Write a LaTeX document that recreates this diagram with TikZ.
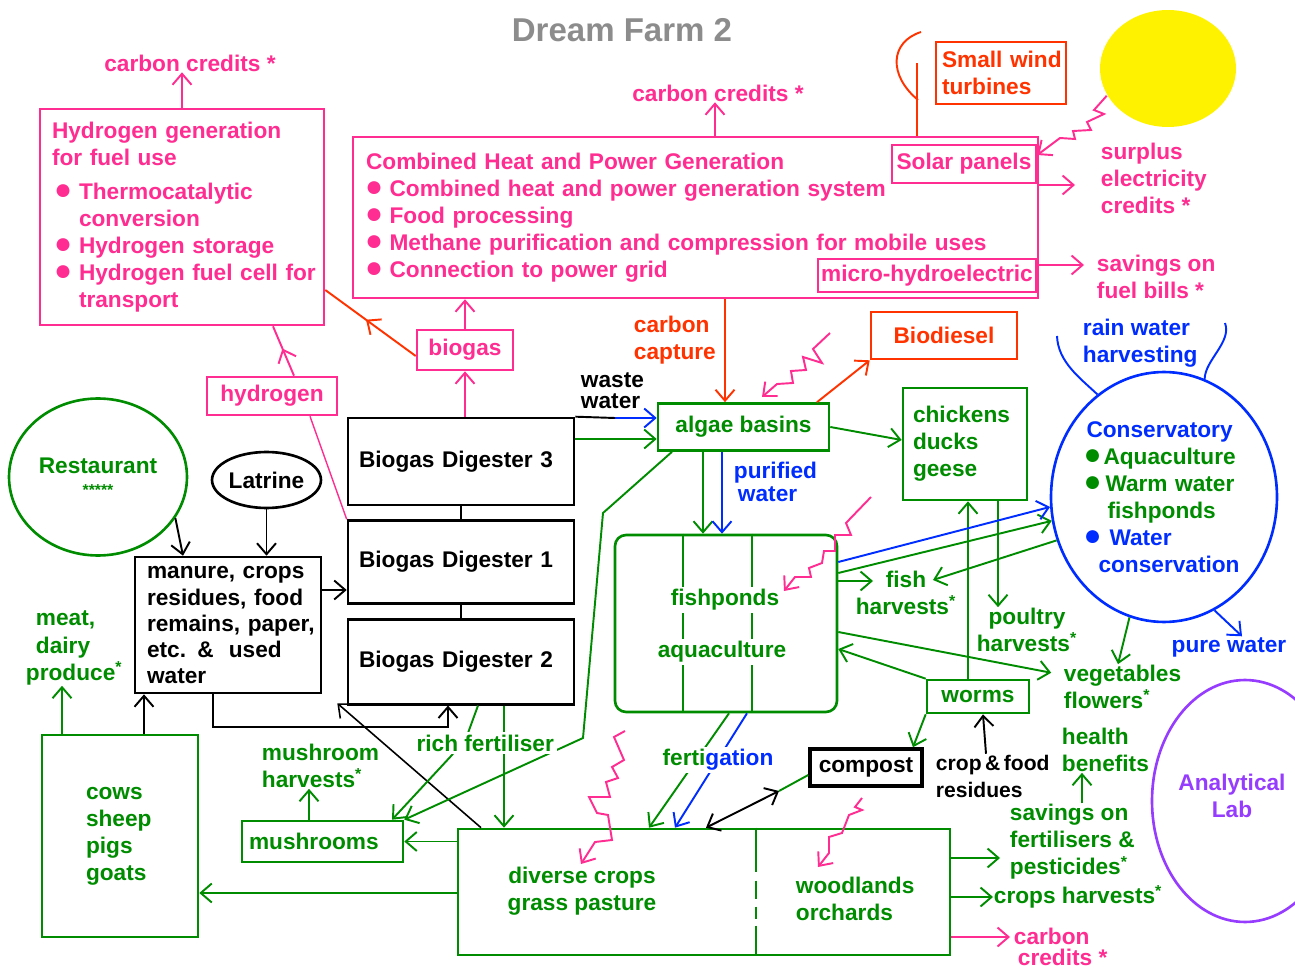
\documentclass[tikz,border=0pt]{standalone}
\usepackage{fontspec}
\setmainfont{Liberation Sans}
\usetikzlibrary{arrows.meta,positioning,shapes.geometric,decorations.markings}
\definecolor{pinkc}{RGB}{255,45,145}
\definecolor{redc}{RGB}{255,51,0}
\definecolor{greenc}{RGB}{0,140,0}
\definecolor{bluec}{RGB}{0,45,255}
\definecolor{purplec}{RGB}{150,60,255}
\definecolor{grayc}{RGB}{140,140,140}
\newcommand{\blt}[2][0cm]{\makebox[#2][l]{\hspace*{#1}\raisebox{-0.3pt}{\fontsize{17}{15}\selectfont ●}}}
\hyphenpenalty=10000
\exhyphenpenalty=10000

\begin{document}
\begin{tikzpicture}[x=0.02cm,y=-0.02cm,line width=1.1pt,
  every node/.style={font=\bfseries\fontsize{12.9}{15.4}\selectfont,inner sep=0pt},
  >={Straight Barb[length=2.2mm,width=3.8mm]},
  box/.style={draw,line width=1.5pt,align=left},
  midarr/.style={postaction={decorate,decoration={markings,mark=at position 0.55 with {\arrow{>}}}}}]
\path[use as bounding box,clip] (0,0) rectangle (1295,969);

\node[grayc,font=\bfseries\fontsize{18.8}{20}\selectfont] (title) at (622,30) {Dream Farm 2};

\node[box,pinkc,minimum width=5.68cm,minimum height=4.32cm,text width=5.2cm] (hyd) at (182,217)
  {Hydrogen generation\\for fuel use\\[0.14cm]
   \blt[0.04cm]{0.54cm}Thermocatalytic\\\hspace*{0.54cm}conversion\\
   \blt[0.04cm]{0.54cm}Hydrogen storage\\
   \blt[0.04cm]{0.54cm}Hydrogen~fuel~cell~for\\\hspace*{0.54cm}transport};
\node[box,pinkc,minimum width=13.7cm,minimum height=3.22cm,text width=13.18cm] (chp) at (695.5,217.5)
  {Combined Heat and Power Generation\\
   \blt[-0.02cm]{0.47cm}Combined heat and power generation system\\
   \blt[-0.02cm]{0.47cm}Food processing\\
   \blt[-0.02cm]{0.47cm}Methane purification and compression for mobile uses\\
   \blt[-0.02cm]{0.47cm}Connection to power grid};
\node[box,pinkc,fill=white,minimum width=2.88cm,minimum height=0.76cm] (solar) at (964,164) {Solar panels};
\node[box,pinkc,fill=white,minimum width=4.36cm,minimum height=0.66cm] (micro) at (927,275.5) {micro-hydroelectric};
\node[pinkc] (cc1) at (190,63) {carbon credits *};
\node[pinkc] (cc2) at (718,93) {carbon credits *};
\node[pinkc,align=left,anchor=west] (surplus) at (1100,178) {surplus\\electricity\\credits *};
\node[pinkc,align=left,anchor=west] (savings) at (1096,277) {savings on\\fuel bills *};
\node[box,redc,minimum width=2.6cm,minimum height=1.24cm,text width=2.36cm] (wind) at (1001,73) {Small~wind\\turbines};
\node[ellipse,fill=yellow,minimum width=2.72cm,minimum height=2.34cm] (sun) at (1168,68.5) {};
\node[box,pinkc,minimum width=1.92cm,minimum height=0.8cm] (biogas) at (465,350) {biogas};
\node[box,pinkc,minimum width=2.6cm,minimum height=0.76cm] (hydrogen) at (272,396) {hydrogen};
\node[box,redc,minimum width=2.92cm,minimum height=0.94cm] (biodiesel) at (944,335.5) {Biodiesel};
\node[redc,align=left,anchor=west] (capture) at (633,340) {carbon\\capture};

\node[box,minimum width=4.52cm,minimum height=1.74cm,text width=4.08cm] (dig3) at (461,461.5) {Biogas Digester 3};
\node[box,minimum width=4.52cm,minimum height=1.66cm,text width=4.08cm,below=0.26cm of dig3] (dig1) {Biogas Digester 1};
\node[box,minimum width=4.52cm,minimum height=1.7cm,text width=4.08cm,below=0.26cm of dig1] (dig2) {Biogas Digester 2};
\node[align=left,anchor=west,font=\bfseries\fontsize{12.9}{12}\selectfont] (waste) at (580,391) {waste\\water};
\node[box,greenc,minimum width=3.42cm,minimum height=0.94cm] (algae) at (743.5,427) {algae basins};
\node[bluec,align=left,anchor=west,font=\bfseries\fontsize{12.9}{13}\selectfont] (purified) at (733,482) {purified\\\hspace*{0.08cm}water};
\node[box,greenc,minimum width=2.48cm,minimum height=2.24cm,text width=2.08cm] (chickens) at (965,444) {chickens\\ducks\\geese};

\node[ellipse,draw,bluec,line width=1.5pt,minimum width=4.52cm,minimum height=5cm,text width=3.1cm,align=left] (cons) at (1164,497)
  {Conservatory\\
   \textcolor{greenc}{\blt[-0.06cm]{0.34cm}Aquaculture}\\
   \textcolor{greenc}{\blt[-0.06cm]{0.38cm}Warm water}\\
   \textcolor{greenc}{\hspace*{0.42cm}fishponds}\\
   \blt[-0.06cm]{0.46cm}Water\\
   \hspace*{0.24cm}conservation};
\node[bluec,align=left,anchor=west] (rain) at (1082,343) {rain water\\harvesting};
\node[bluec] (pure) at (1229,647) {pure water};

\node[draw,greenc,line width=1.5pt,rounded corners=0.22cm,minimum width=4.44cm,minimum height=3.54cm] (fish) at (726,623.5) {};
\node[greenc,align=center] (fishharv) at (906,593) {fish\\harvests\textsuperscript{*}};
\node[greenc,align=center] (poultry) at (1027,630) {poultry\\harvests\textsuperscript{*}};
\node[greenc,align=left,anchor=west] (veg) at (1063,687) {vegetables\\flowers\textsuperscript{*}};
\node[box,greenc,minimum width=2.04cm,minimum height=0.66cm] (worms) at (978,696.5) {worms};
\node[box,line width=2pt,minimum width=2.24cm,minimum height=0.74cm] (compost) at (866,767.5) {compost};
\node[align=left,anchor=west,font=\bfseries\fontsize{12}{15.4}\selectfont] (residues) at (935,776) {crop\,\&\,food\\residues};
\node[greenc,align=left,anchor=west] (health) at (1061,750) {health\\benefits};
\node[greenc,align=left,anchor=west] (savfert) at (1009,842) {savings on\\fertilisers \&\\pesticides\textsuperscript{*}};
\node[greenc,anchor=west] (cropharv) at (993,897) {crops harvests\textsuperscript{*}};
\node[pinkc,align=left,anchor=west,font=\bfseries\fontsize{12.9}{12}\selectfont] (cc3) at (1013,947) {carbon\\\hspace*{0.08cm}credits *};
\node[ellipse,draw,purplec,line width=1.5pt,minimum width=3.72cm,minimum height=4.84cm] (lab) at (1245,801) {};
\node[purplec,align=center] (labtxt) at (1232,796) {Analytical\\Lab};

\node[ellipse,draw,greenc,line width=1.5pt,minimum width=3.56cm,minimum height=3.14cm,align=center] (rest) at (98,477)
  {Restaurant\\[-0.1cm]{\fontsize{9}{9}\selectfont *****}};
\node[ellipse,draw,line width=1.5pt,minimum width=2.18cm,minimum height=1.12cm] (latrine) at (266.5,480) {Latrine};
\node[box,minimum width=3.72cm,minimum height=2.72cm,text width=3.24cm,font=\bfseries\fontsize{12.9}{14.8}\selectfont] (manure) at (228,625)
  {manure, crops\\residues, food\\remains,~paper,\\etc. \&~~used\\water};
\node[greenc,align=left,anchor=west] (meat) at (25,648) {\hspace*{0.2cm}meat,\\\hspace*{0.2cm}dairy\\produce\textsuperscript{*}};
\node[box,greenc,minimum width=3.12cm,minimum height=4.04cm,text width=1.36cm] (cows) at (120,836) {cows\\sheep\\pigs\\goats};
\node[box,greenc,minimum width=3.22cm,minimum height=0.82cm,text width=2.94cm] (mush) at (322.5,841.5) {mushrooms};
\node[greenc,align=left,anchor=west] (mushharv) at (261,766) {mushroom\\harvests\textsuperscript{*}};
\node[draw,greenc,line width=1.5pt,minimum width=9.84cm,minimum height=2.52cm] (crops) at (704,892) {};
\node[greenc,align=center] (divtxt) at (582,891) {diverse crops\\grass pasture};
\node[greenc,align=left,anchor=west] (woodtxt) at (795,899) {woodlands\\orchards};

\coordinate (hub) at (917,63);
\coordinate (ww) at (615,418);
\coordinate (fishin) at (873,581);
\coordinate (fishback) at (933,580);
\coordinate (cmid) at (779,791);
\coordinate (rainl) at (1057,336);
\coordinate (rainr) at (1225,323);

\path[pinkc,->] (hyd.north) edge (hyd.north |- cc1.south)
  (715,0 |- chp.north) edge (715,0 |- cc2.south)
  (chp.east |- 0,185) edge[shorten >=0.5cm] (surplus.west |- 0,185)
  (chp.east |- 0,265) edge[shorten >=0.24cm] (savings.west |- 0,265)
  (biogas.north) edge (biogas.north |- chp.south)
  (biogas.south |- dig3.north) edge (biogas.south)
  (crops.east |- 0,937) edge[shorten >=0.06cm] (cc3.west |- 0,937);
\draw[pinkc,midarr] (hydrogen.north -| 294,0) -- (273,0 |- hyd.south);
\draw[pinkc,line width=0.8pt] (dig1.north west) -- (310,0 |- hydrogen.south);
\draw[redc,midarr] (biogas.west |- 0,356) -- (hyd.east |- 0,290);
\draw[redc,->] (725,0 |- chp.south) -- (725,0 |- algae.north);
\draw[redc,->] (817,0 |- algae.north) -- (biodiesel.south west);
\draw[redc] (917,0 |- chp.north) -- (hub);
\draw[redc] (921,32) .. controls (890,42) and (888,75) .. (918,100);

\draw[pinkc,->] (sun.204) -- (1094,110) -- (1104,114) -- (1087,122) -- (1091,130) -- (1073,131) -- (1075,139) -- (1060,138) -- (solar.east |- 0,155);
\draw[pinkc,->] (830,333) -- (813,349) -- (822,363) -- (803,357) -- (806,370) -- (791,371) -- (793,383) -- (777,384) -- (762,397);
\draw[pinkc,->] (871,497) -- (846,523) -- (851,535) -- (835,535) -- (835,551) -- (824,551) -- (822,563) -- (809,568) -- (811,577) -- (795,577) -- (784,591);
\draw[pinkc,->] (625,731) -- (614,737) -- (624,760) -- (612,767) -- (618,778) -- (606,782) -- (610,797) -- (589,797) -- (597,813) -- (608,815) -- (612,840) -- (595,842) -- (581,864);
\draw[pinkc,->] (862,798) -- (855,807) -- (862,810) -- (849,815) -- (842,833) -- (829,837) -- (829,853) -- (818,867);

\draw (dig3.north east) -- (ww);
\draw[bluec,->] (ww) -- (algae.west |- ww);
\draw (dig3.south) -- (dig1.north);
\draw (dig1.south) -- (dig2.north);
\draw[->] (manure.east |- 0,590) -- (dig1.west |- 0,590);
\draw[->] (213,0 |- manure.south) -- (213,727) -- (448,727) -- (448,0 |- dig2.south);
\draw[->] (latrine.south) -- (latrine.south |- manure.north);
\draw[->] (rest.-28) -- (183,0 |- manure.north);
\draw[->] (144,0 |- cows.north) -- (144,0 |- manure.south);
\draw[->,line width=0.9pt] (481,0 |- crops.north) -- ([shift={(0.3cm,-0.18cm)}]manure.south east);
\draw[->] (986,0 |- residues.north) -- (983,0 |- worms.south);

\path[greenc,->] (dig3.east |- 0,439) edge (algae.west |- 0,439)
  (algae.east) edge (chickens.west |- 0,440)
  (703,0 |- algae.south) edge (703,0 |- fish.north)
  (fish.east |- 0,581) edge (fishin)
  (cons.202) edge (fishback)
  (fish.east |- 0,573) edge (cons.192)
  (fish.east |- 0,632) edge[shorten >=0.24cm] (veg.west |- 0,675)
  (worms.north west) edge (fish.east |- 0,649)
  (998,0 |- chickens.south) edge (998,0 |- poultry.north)
  (968,0 |- worms.north) edge (968,0 |- chickens.south)
  (cons.254) edge (1118,0 |- veg.north)
  (worms.south west) edge (913,0 |- compost.north)
  (62,0 |- cows.north) edge (62,0 |- meat.south)
  (crops.west |- 0,893) edge (cows.east |- 0,893)
  (crops.west |- mush.east) edge (mush.east)
  (309,0 |- mush.north) edge (309,0 |- mushharv.south)
  (504,0 |- dig2.south) edge (504,0 |- crops.north)
  (729,0 |- fish.south) edge (649,0 |- crops.north)
  (crops.east |- 0,858) edge[shorten >=0.18cm] (savfert.west |- 0,858)
  (crops.east |- 0,897) edge (cropharv.west)
  (1082,0 |- savfert.north) edge (1082,0 |- health.south);
\path[bluec,->] (722,0 |- algae.south) edge (722,0 |- fish.north)
  (fish.east |- 0,562) edge (cons.185)
  (cons.294) edge (1242,0 |- pure.north)
  (747,0 |- fish.south) edge (675,0 |- crops.north);
\draw[greenc,->] (478,0 |- dig2.south) -- (468,733) -- (452,755) -- (392,0 |- mush.north);
\draw[greenc,->] (672,0 |- algae.south) -- (603,513) -- (583,738) -- (mush.north east);
\draw[greenc] (compost.west |- 0,775) -- (cmid);
\draw[<->] (706,0 |- crops.north) -- (cmid);
\draw[bluec] (cons.123) .. controls (1080,378) and (1058,362) .. (rainl);
\draw[bluec] (cons.71) .. controls (1205,360) and (1232,342) .. (rainr);

\draw[greenc] (683,0 |- fish.north) -- (683,0 |- fish.south);
\draw[greenc] (752,0 |- fish.north) -- (752,0 |- fish.south);
\draw[greenc,dash pattern=on 0.88cm off 0.18cm on 0.36cm off 0.16cm on 0.24cm off 0.14cm on 0.6cm] (756,0 |- crops.north) -- (756,0 |- crops.south);

\node[greenc,fill=white,inner sep=1.5pt] (fishtxt) at (725,600) {fishponds};
\node[greenc,fill=white,inner sep=1.5pt] (aquatxt) at (722,652) {aquaculture};
\node[greenc,fill=white,inner sep=1.5pt,anchor=west] (richfert) at (413,743) {rich fertiliser};
\node[fill=white,inner sep=1.5pt] (fertig) at (718,760) {\textcolor{greenc}{ferti}\textcolor{bluec}{gation}};
\end{tikzpicture}
\end{document}
